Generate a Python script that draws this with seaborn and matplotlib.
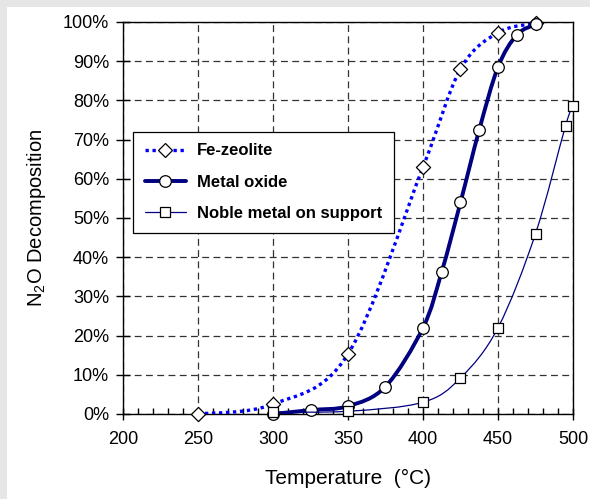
import numpy as np
import pandas as pd
import matplotlib
matplotlib.use("Agg")
import matplotlib.pyplot as plt
import seaborn as sns
from matplotlib.path import Path
from matplotlib.patches import PathPatch, Rectangle
from matplotlib.lines import Line2D
from matplotlib.ticker import MultipleLocator, PercentFormatter

# ---- data ----
fe_temp = [250, 300, 350, 400, 425, 450, 475]
fe_conv = [0.0, 2.5, 15.3, 63.0, 88.0, 97.3, 99.7]

mo_temp = [300, 325, 350, 375, 400, 412.5, 425, 437.5, 450, 462.5, 475]
mo_conv = [0.0, 1.0, 2.0, 7.0, 22.0, 36.3, 54.0, 72.5, 88.5, 96.7, 99.4]

nm_temp = [300, 350, 400, 425, 450, 475, 495, 500]
nm_conv = [0.5, 0.7, 3.0, 9.2, 22.0, 46.0, 73.5, 78.6]

series_names = ["Fe-zeolite", "Metal oxide", "Noble metal on support"]
x_ticks = [200, 250, 300, 350, 400, 450, 500]
y_ticks = [0, 10, 20, 30, 40, 50, 60, 70, 80, 90, 100]

sns.set_theme(style="white")
plt.rcParams["font.family"] = ["Liberation Sans", "DejaVu Sans"]
plt.rcParams["mathtext.fontset"] = "custom"
plt.rcParams["mathtext.rm"] = "Liberation Sans"
plt.rcParams["mathtext.it"] = "Liberation Sans:italic"
plt.rcParams["text.color"] = "black"
plt.rcParams["axes.labelcolor"] = "black"
plt.rcParams["xtick.color"] = "black"
plt.rcParams["ytick.color"] = "black"

fig = plt.figure(figsize=(5.9, 4.99), dpi=100)
fig.patch.set_facecolor("#e6e6e6")
bg = Rectangle((7 / 590, 0), 1, 1 - 7 / 499, transform=fig.transFigure,
               facecolor="white", edgecolor="none", zorder=-10)
fig.patches.append(bg)
ax = fig.add_axes([123 / 590, 85 / 499, 450 / 590, 392 / 499])
ax.set_zorder(1)
ax.set_facecolor("white")


def smooth_path(xs, ys):
    P = np.column_stack([xs, ys]).astype(float)
    n = len(P)
    verts = [tuple(P[0])]
    codes = [Path.MOVETO]
    for i in range(n - 1):
        p0 = P[i - 1] if i > 0 else P[i]
        p1 = P[i]
        p2 = P[i + 1]
        p3 = P[i + 2] if i + 2 < n else P[i + 1]
        c1 = p1 + (p2 - p0) / 6.0
        c2 = p2 - (p3 - p1) / 6.0
        verts += [tuple(c1), tuple(c2), tuple(p2)]
        codes += [Path.CURVE4] * 3
    return Path(verts, codes)


styles = [
    dict(color="#0000ff", lw=2.4, ls=(0, (1.0, 1.1)), marker="D", s=52),
    dict(color="#000080", lw=2.8, ls="-", marker="o", s=70),
    dict(color="#000080", lw=0.9, ls="-", marker="s", s=62),
]
data = [(fe_temp, fe_conv), (mo_temp, mo_conv), (nm_temp, nm_conv)]

handles = []
for k, ((xs, ys), st, name) in enumerate(zip(data, styles, series_names)):
    patch = PathPatch(smooth_path(xs, ys), facecolor="none", edgecolor=st["color"],
                      lw=st["lw"], ls=st["ls"], zorder=3 + k * 2, capstyle="butt")
    ax.add_patch(patch)
    df = pd.DataFrame({"T": xs, "conv": ys})
    sns.scatterplot(data=df, x="T", y="conv", ax=ax, marker=st["marker"], s=st["s"],
                    color="white", edgecolor="black", linewidth=0.9, zorder=4 + k * 2,
                    legend=False, clip_on=False)
    handles.append(Line2D([0], [0], color=st["color"], lw=st["lw"], ls=st["ls"],
                          marker=st["marker"], markersize=np.sqrt(st["s"]),
                          markerfacecolor="white", markeredgecolor="black",
                          markeredgewidth=0.9))

ax.set_xlim(200, 500)
ax.set_ylim(0, 100)
ax.set_xticks(x_ticks)
ax.set_yticks(y_ticks)
ax.xaxis.set_minor_locator(MultipleLocator(10))
ax.yaxis.set_major_formatter(PercentFormatter(decimals=0))

ax.grid(True, which="major", color="#333333", ls=(0, (5.5, 3.5)), lw=0.9)
ax.set_axisbelow(True)
for sp in ax.spines.values():
    sp.set_visible(True)
    sp.set_color("black")
    sp.set_linewidth(1.0)

ax.tick_params(axis="x", which="major", direction="inout", length=9, width=1,
               color="black", labelcolor="black", labelsize=13, pad=8, bottom=True)
ax.tick_params(axis="x", which="minor", direction="in", length=4, width=1,
               color="black", bottom=True)
ax.tick_params(axis="y", which="major", direction="inout", length=10, width=1,
               color="black", labelcolor="black", labelsize=13, pad=5, left=True)

ax.set_xlabel("Temperature  (°C)", fontsize=15, labelpad=15, color="black")
ax.set_ylabel("N$_2$O Decomposition", fontsize=14.5, labelpad=11, color="black")

leg = ax.legend(handles, series_names, loc="upper left", bbox_to_anchor=(0.022, 0.72),
                borderaxespad=0, frameon=True, fancybox=False, framealpha=1,
                edgecolor="black", prop={"weight": "bold", "size": 12},
                handlelength=2.5, labelspacing=0.98, handletextpad=0.65,
                borderpad=0.7)
leg.get_frame().set_linewidth(0.9)
for t in leg.get_texts():
    t.set_color("black")
leg.set_zorder(20)

fig.savefig("out.png", dpi=100, facecolor=fig.get_facecolor())
